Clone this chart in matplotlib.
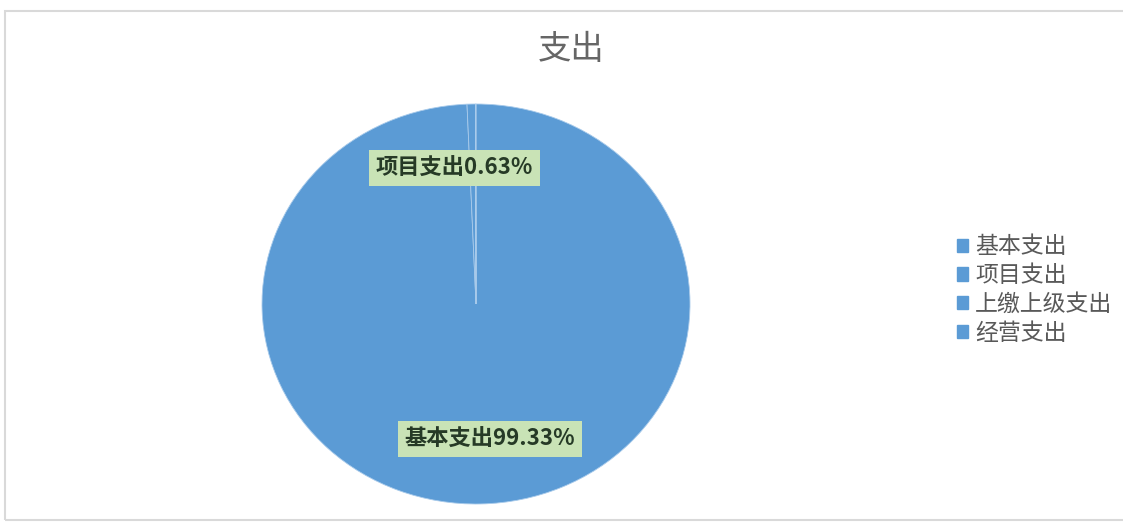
import matplotlib
matplotlib.use("Agg")
import matplotlib.pyplot as plt
from matplotlib.patches import Rectangle

plt.rcParams['font.family'] = ['Noto Sans CJK SC', 'DejaVu Sans']

# 数据
categories = ['基本支出', '项目支出', '上缴上级支出', '经营支出']
shares = [99.33, 0.63, 0.0, 0.04]
pie_color = '#5B9BD5'

fig = plt.figure(figsize=(11.23, 5.23), dpi=100)

# 外框
fig.patches.append(Rectangle((5 / 1123, 3 / 523), 1.2, 509 / 523, transform=fig.transFigure,
                             fill=False, edgecolor='#d9d9d9', linewidth=1.5))

ax = fig.add_axes([262 / 1123, 19 / 523, 428 / 1123, 400 / 523])
wedges, _ = ax.pie(shares, colors=[pie_color] * len(shares), startangle=90, counterclock=False,
                   wedgeprops=dict(edgecolor='#a9cbeb', linewidth=0.6))
ax.set_aspect('auto')
ax.set_xlim(-1, 1)
ax.set_ylim(-1, 1)

box = dict(boxstyle='square,pad=0.3', facecolor='#c9e3b6', edgecolor='none')
ax.text(-0.10, 0.68, f'{categories[1]}{shares[1]:.2f}%', ha='center', va='center',
        fontsize=16, fontweight='bold', color='#263a26', bbox=box)
ax.text(0.065, -0.675, f'{categories[0]}{shares[0]:.2f}%', ha='center', va='center',
        fontsize=16, fontweight='bold', color='#263a26', bbox=box)

fig.text(571 / 1123, 1 - 50 / 523, '支出', ha='center', va='center', fontsize=24, color='#666666')

handles = [Rectangle((0, 0), 1, 1, color=pie_color) for _ in categories]
fig.legend(handles, categories, loc='center left', bbox_to_anchor=(936 / 1123, 1 - 290 / 523),
           frameon=False, fontsize=16.5, handlelength=0.5, handleheight=0.5, handletextpad=0.3,
           labelspacing=0.25, labelcolor='#595959')

fig.savefig('out.png', dpi=100)
